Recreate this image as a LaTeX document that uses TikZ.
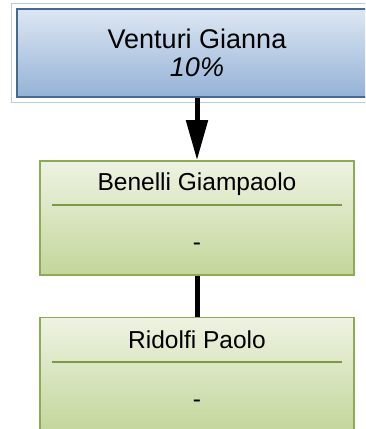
\documentclass[tikz,border=0pt]{standalone}
\usepackage{fontspec}
\setmainfont{Liberation Sans}
\usepackage{tikz}
\usetikzlibrary{arrows.meta, positioning, fit}
\usepackage{xcolor}
\definecolor{FrameBlue}{HTML}{BACDE4}
\definecolor{EdgeBlue}{HTML}{46698F}
\definecolor{TopBlue}{HTML}{DDE7F3}
\definecolor{BottomBlue}{HTML}{94B2D6}
\definecolor{EdgeGreen}{HTML}{8DAA55}
\definecolor{RuleGreen}{HTML}{7B9A43}
\definecolor{TopGreen}{HTML}{EEF3E2}
\definecolor{BottomGreen}{HTML}{C3D69B}
\tikzset{
  % Head of the chart
  topbox/.style={
    rectangle, draw=EdgeBlue, line width=1.6pt,
    top color=TopBlue, bottom color=BottomBlue,
    minimum width=360pt, minimum height=88pt,
    align=center, inner sep=0pt,
    font=\fontsize{27}{28}\selectfont
  },
  % Light outline round the head
  frame/.style={
    rectangle, draw=FrameBlue, line width=1pt,
    inner sep=5pt
  },
  % Member box
  member/.style={
    rectangle, draw=EdgeGreen, line width=1.6pt,
    top color=TopGreen, bottom color=BottomGreen,
    minimum width=314pt, minimum height=114pt,
    inner sep=0pt
  },
  % Texts inside a member box
  nametext/.style={font=\fontsize{24.5}{28}\selectfont, inner sep=0pt},
  roletext/.style={font=\fontsize{24.5}{28}\selectfont, inner sep=0pt},
  % Rule under the name
  sepline/.style={draw=RuleGreen, line width=1.5pt},
  % Connectors
  arrow/.style={
    -{Triangle[length=40pt, width=21pt]}, line width=5pt, draw=black
  },
  link/.style={line width=5pt, draw=black}
}
\begin{document}
\begin{tikzpicture}[x=1pt, y=-1pt]

\useasboundingbox (0,0) rectangle (365,429);
\clip (0,0) rectangle (365,429);

% Head
\node[topbox] (venturi) at (197,53) {Venturi Gianna\\\textit{10\%}};
\node[frame, fit=(venturi)] (venturi_frame) {};

% Members
\node[member] (benelli) at (197,218) {};
\node[nametext] (benelli_name) at ([yshift=-23.5pt]benelli.north) {Benelli Giampaolo};
\draw[sepline] ([xshift=13pt, yshift=-45pt]benelli.north west)
            -- ([xshift=-13pt, yshift=-45pt]benelli.north east);
\node[roletext] (benelli_role) at ([yshift=-87pt]benelli.north) {-};

\node[member, below=41pt of benelli] (ridolfi) {};
\node[nametext] (ridolfi_name) at ([yshift=-22.5pt]ridolfi.north) {Ridolfi Paolo};
\draw[sepline] ([xshift=13pt, yshift=-45pt]ridolfi.north west)
            -- ([xshift=-13pt, yshift=-45pt]ridolfi.north east);
\node[roletext] (ridolfi_role) at ([yshift=-87pt]ridolfi.north) {-};

% Connectors
\draw[arrow] (venturi) -- (benelli);
\draw[link]  (benelli) -- (ridolfi);

\end{tikzpicture}
\end{document}
